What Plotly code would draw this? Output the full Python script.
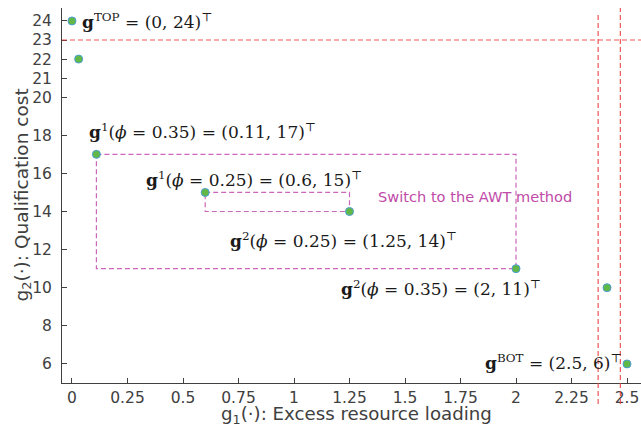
import plotly.graph_objects as go

# Data
g1_vals = [0.0, 0.03, 0.11, 0.6, 1.25, 2.0, 2.41, 2.5]
g2_vals = [24, 22, 17, 15, 14, 11, 10, 6]

rect_outer = {"x0": 0.11, "y0": 17, "x1": 2.0, "y1": 11}
rect_inner = {"x0": 0.6, "y0": 15, "x1": 1.25, "y1": 14}

h_threshold = 23
v_thresholds = [2.37, 2.47]

x_ticks = [0, 0.25, 0.5, 0.75, 1, 1.25, 1.5, 1.75, 2, 2.25, 2.5]
x_tick_text = ["0", "0.25", "0.5", "0.75", "1", "1.25", "1.5", "1.75", "2", "2.25", "2.5"]
y_ticks = [6, 8, 10, 12, 14, 16, 18, 20, 21, 22, 23, 24]

x_title = "g<sub>1</sub>(·): Excess resource loading"
y_title = "g<sub>2</sub>(·): Qualification cost"

labels = [
    # (point index, text, xanchor, xshift, yshift)
    (0, "<b>g</b><sup>TOP</sup> = (0, 24)<sup>⊤</sup>", "left", 8, 0),
    (2, "<b>g</b><sup>1</sup>(<i>ϕ</i> = 0.35) = (0.11, 17)<sup>⊤</sup>", "left", -9, 23),
    (3, "<b>g</b><sup>1</sup>(<i>ϕ</i> = 0.25) = (0.6, 15)<sup>⊤</sup>", "left", -61, 13),
    (4, "<b>g</b><sup>2</sup>(<i>ϕ</i> = 0.25) = (1.25, 14)<sup>⊤</sup>", "left", -122, -28),
    (5, "<b>g</b><sup>2</sup>(<i>ϕ</i> = 0.35) = (2, 11)<sup>⊤</sup>", "left", -177, -19),
    (7, "<b>g</b><sup>BOT</sup> = (2.5, 6)<sup>⊤</sup>", "right", -3, 2),
]
switch_text = "Switch to the AWT method"
switch_pos = (1.815, 14.8)

fig = go.Figure()

magenta = "#cc66bb"
for r in (rect_outer, rect_inner):
    fig.add_shape(type="rect", xref="x", yref="y",
                  x0=r["x0"], y0=r["y0"], x1=r["x1"], y1=r["y1"],
                  line=dict(color=magenta, width=1.2, dash="5px,3px"), layer="below")

red = "#ee3b3b"
fig.add_shape(type="line", xref="paper", yref="y", x0=0, x1=1,
              y0=h_threshold, y1=h_threshold,
              line=dict(color=red, width=1.2, dash="5px,3px"), opacity=0.85)
tops = [0.987, 1.0]
for v, t in zip(v_thresholds, tops):
    fig.add_shape(type="line", xref="x", yref="paper", x0=v, x1=v,
                  y0=-0.056, y1=t,
                  line=dict(color=red, width=1.2, dash="5px,3px"), opacity=0.85)

fig.add_trace(go.Scatter(
    x=g1_vals, y=g2_vals, mode="markers",
    marker=dict(size=8, color="#62b846", line=dict(color="#4b9fd5", width=1)),
    showlegend=False, hoverinfo="skip", cliponaxis=False,
))

serif = "DejaVu Serif"
for idx, txt, xa, xs, ys in labels:
    fig.add_annotation(x=g1_vals[idx], y=g2_vals[idx], text=txt, showarrow=False,
                       xanchor=xa, yanchor="middle", xshift=xs, yshift=ys,
                       font=dict(family=serif, size=17, color="#1a1a1a"))

fig.add_annotation(x=switch_pos[0], y=switch_pos[1], text=switch_text, showarrow=False,
                   xanchor="center", yanchor="middle",
                   font=dict(family="DejaVu Sans", size=14.6, color="#c04aa8"))

fig.add_annotation(xref="paper", yref="paper", x=0.5, y=0, text=x_title,
                   showarrow=False, xanchor="center", yanchor="middle",
                   xshift=5, yshift=-32,
                   font=dict(family="DejaVu Sans", size=18.2, color="#404040"))
fig.add_annotation(xref="paper", yref="paper", x=0, y=0.5, text=y_title,
                   showarrow=False, xanchor="center", yanchor="middle",
                   textangle=-90, xshift=-40,
                   font=dict(family="DejaVu Sans", size=18.5, color="#404040"))

axis_font = dict(family="DejaVu Sans", size=15.5, color="#404040")
fig.update_layout(
    width=641, height=434,
    margin=dict(l=62, r=0, t=8, b=51),
    paper_bgcolor="white", plot_bgcolor="white",
    xaxis=dict(range=[-0.045, 2.563], tickvals=x_ticks, ticktext=x_tick_text,
               ticks="inside", ticklen=5, tickcolor="#404040", automargin=False,
               showline=True, linecolor="#404040", linewidth=1,
               showgrid=False, zeroline=False, tickfont=axis_font),
    yaxis=dict(range=[5, 24.68], tickvals=y_ticks, ticklabelstandoff=6,
               ticks="inside", ticklen=5, tickcolor="#404040", automargin=False,
               showline=True, linecolor="#404040", linewidth=1,
               showgrid=False, zeroline=False, tickfont=axis_font),
)

fig.write_html("out.html", config={"displayModeBar": False},
               post_script="document.body.style.margin='0px';")
